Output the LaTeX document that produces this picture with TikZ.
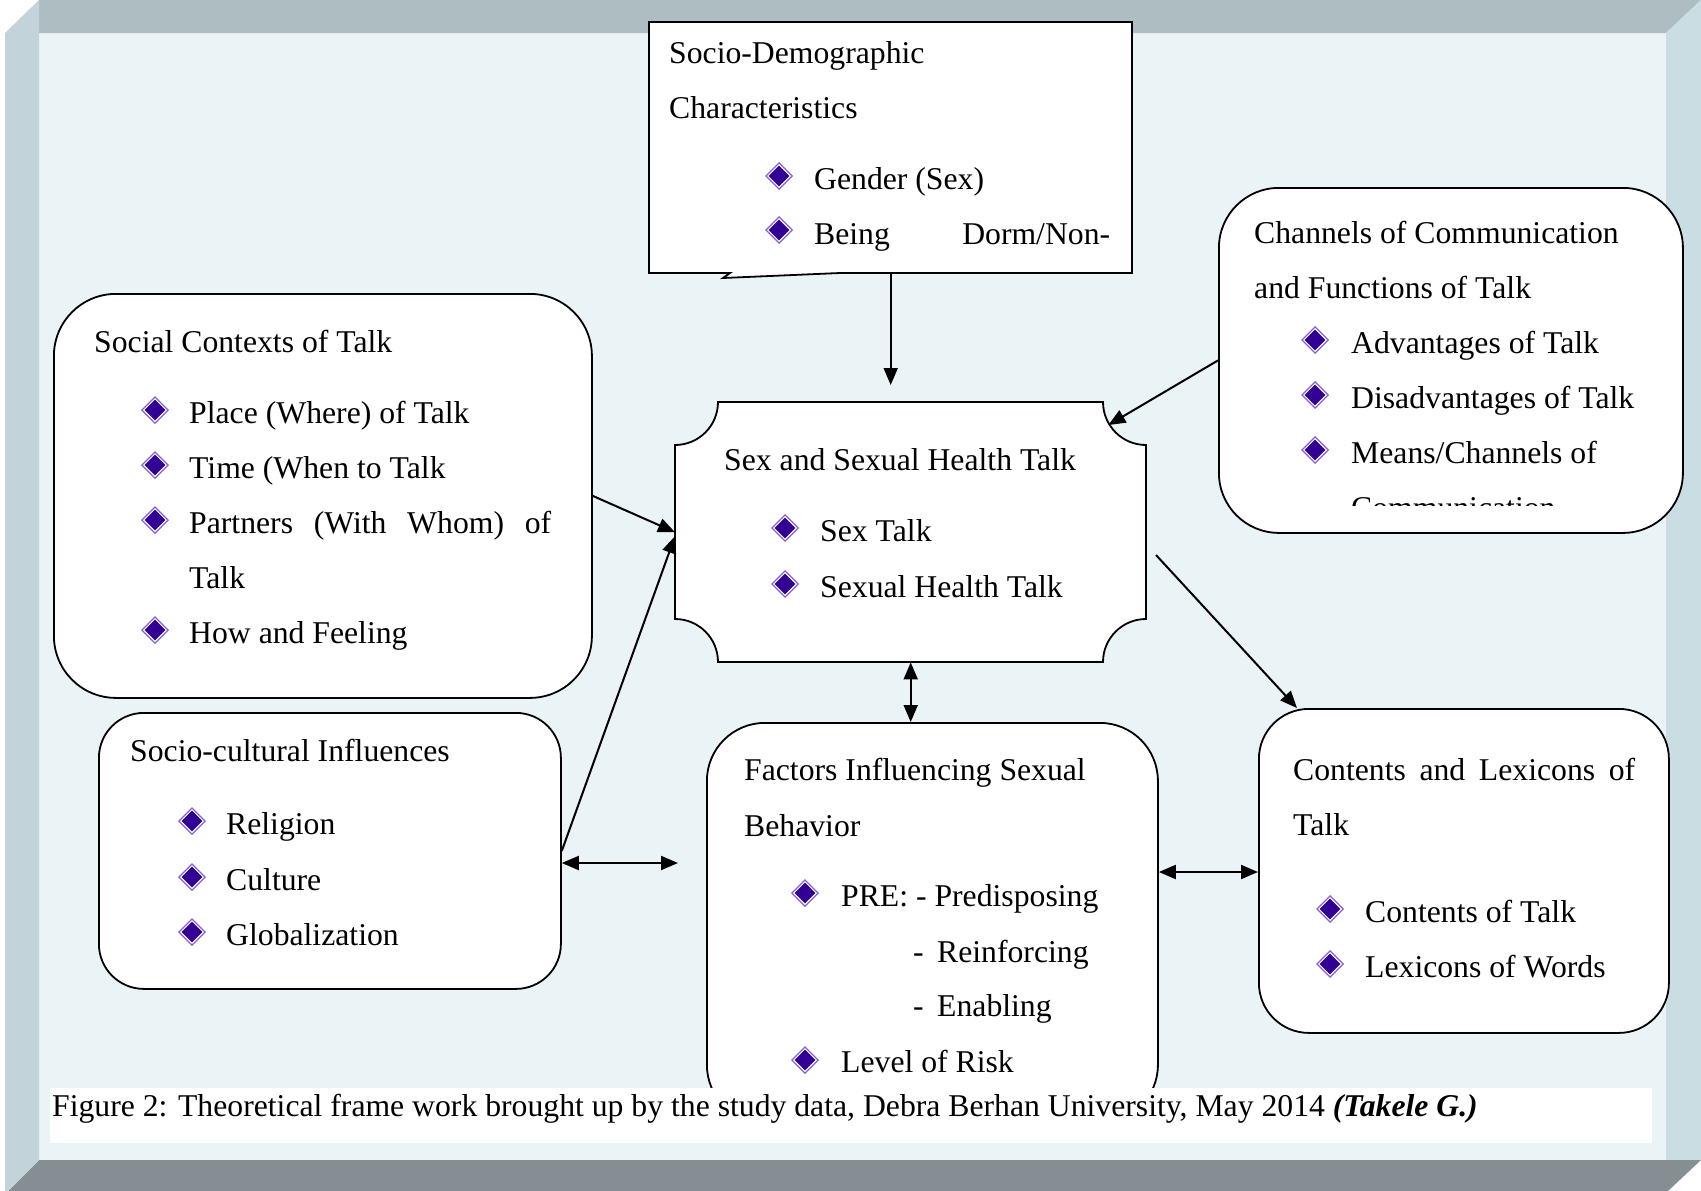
\documentclass[tikz,border=0pt]{standalone}
\usepackage{fontspec}
\setmainfont{Liberation Serif}
\usetikzlibrary{arrows.meta}
\definecolor{bevtop}{RGB}{174,189,194}
\definecolor{bevleft}{RGB}{194,212,217}
\definecolor{bevright}{RGB}{202,221,227}
\definecolor{bevbot}{RGB}{133,142,147}
\definecolor{innerbg}{RGB}{234,243,246}
\definecolor{bulA}{RGB}{130,100,215}
\definecolor{bulB}{RGB}{51,0,150}
\begin{document}
\begin{tikzpicture}[x=1pt,y=-1pt,
  boxshape/.style={anchor=north west, inner sep=0pt},
  rbox/.style={draw=black, fill=white, line width=1.8pt, anchor=north west, inner sep=0pt},
  txt/.style={anchor=base west, inner sep=0pt, font=\fontsize{31.7}{38}\selectfont},
  arr/.style={line width=2pt, -{Triangle[length=17pt,width=14pt]}},
  darr/.style={line width=2pt, {Triangle[length=17pt,width=14pt]}-{Triangle[length=17pt,width=14pt]}},
  bul/.pic={
    \fill[bulA] (0,-14)--(14,0)--(0,14)--(-14,0)--cycle;
    \fill[white] (0,-12)--(12,0)--(0,12)--(-12,0)--cycle;
    \fill[bulB] (0,-10.3)--(10.3,0)--(0,10.3)--(-10.3,0)--cycle;
  }]
\useasboundingbox (0,0) rectangle (1701,1191);
% frame
\fill[innerbg] (39,33) rectangle (1666,1160);
\fill[bevtop] (39,0)--(1701,0)--(1666,33)--(39,33)--cycle;
\fill[bevright] (1666,33)--(1701,0)--(1701,1160)--(1666,1160)--cycle;
\fill[bevbot] (39,1160)--(1701,1160)--(1668,1191)--(8,1191)--cycle;
\fill[bevleft] (39,0)--(5,33)--(5,1191)--(8,1191)--(39,1160)--cycle;

% boxes
\node[boxshape, minimum width=483pt, minimum height=251pt] (sdem) at (649,22) {};
\draw[line width=1.8pt, fill=white] (649,22)--(1132,22)--(1132,273)--(840,273)--(723,278)--(730,273)--(649,273)--cycle;

\node[rbox, rounded corners=62pt, minimum width=538pt, minimum height=404pt] (social) at (53,293) {};
\node[rbox, rounded corners=60pt, minimum width=464pt, minimum height=345pt] (channels) at (1218,187) {};
\node[rbox, rounded corners=45pt, minimum width=462pt, minimum height=276pt] (socult) at (98,712) {};
\node[rbox, rounded corners=58pt, minimum width=451pt, minimum height=400pt] (factors) at (706,722) {};
\node[rbox, rounded corners=50pt, minimum width=410pt, minimum height=324pt] (contents) at (1258,708) {};

\node[boxshape, minimum width=471pt, minimum height=260pt] (center) at (675,402) {};
\draw[line width=1.8pt, fill=white] (718,402)--(1103,402) arc(180:270:43pt)
  --(1146,619) arc(90:180:43pt)
  --(718,662) arc(0:90:43pt)
  --(675,445) arc(270:360:43pt)--cycle;

% texts: socio-demographic
\node[txt] (sd1) at (669,63) {Socio-Demographic};
\node[txt] (sd2) at (669,118) {Characteristics};
\pic at (779,176) {bul};
\node[txt] (sd3) at (814,189) {Gender (Sex)};
\pic at (779,230) {bul};
\node[txt] (sd4) at (814,244) {\makebox[296pt][s]{Being Dorm/Non-}};

% social contexts
\node[txt] (sc0) at (94,352) {Social Contexts of Talk};
\pic at (155,410) {bul};
\node[txt] (sc1) at (189,423) {Place (Where) of Talk};
\pic at (155,465) {bul};
\node[txt] (sc2) at (189,478) {Time (When to Talk};
\pic at (155,520) {bul};
\node[txt] (sc3) at (189,533) {\makebox[362pt][s]{Partners (With Whom) of}};
\node[txt] (sc4) at (189,588) {Talk};
\pic at (155,630) {bul};
\node[txt] (sc5) at (189,643) {How and Feeling};

% channels
\node[txt] (ch1) at (1254,243) {Channels of Communication};
\node[txt] (ch2) at (1254,298) {and Functions of Talk};
\pic at (1315,340) {bul};
\node[txt] (ch3) at (1351,353) {Advantages of Talk};
\pic at (1315,395) {bul};
\node[txt] (ch4) at (1351,408) {Disadvantages of Talk};
\pic at (1315,450) {bul};
\node[txt] (ch5) at (1351,463) {Means/Channels of};
\begin{scope}
\clip (1218,187) rectangle (1682,505);
\node[txt] (ch6) at (1351,518) {Communication};
\end{scope}

% center
\node[txt] (ce1) at (724,470) {Sex and Sexual Health Talk};
\pic at (785,528) {bul};
\node[txt] (ce2) at (820,541) {Sex Talk};
\pic at (785,584) {bul};
\node[txt] (ce3) at (820,597) {Sexual Health Talk};

% socio-cultural
\node[txt] (su0) at (130,761) {Socio-cultural Influences};
\pic at (192,821) {bul};
\node[txt] (su1) at (226,834) {Religion};
\pic at (192,877) {bul};
\node[txt] (su2) at (226,890) {Culture};
\pic at (192,932) {bul};
\node[txt] (su3) at (226,945) {Globalization};

% factors
\node[txt] (fa1) at (744,780) {Factors Influencing Sexual};
\node[txt] (fa2) at (744,836) {Behavior};
\pic at (805,893) {bul};
\node[txt] (fa3) at (841,906) {PRE: - Predisposing};
\node[txt] (fa4d) at (913,962) {-};
\node[txt] (fa4) at (937,962) {Reinforcing};
\node[txt] (fa5d) at (913,1016) {-};
\node[txt] (fa5) at (937,1016) {Enabling};
\pic at (805,1060) {bul};
\node[txt] (fa6) at (841,1072) {Level of Risk};

% contents
\node[txt] (co1) at (1293,780) {\makebox[342pt][s]{Contents and Lexicons of}};
\node[txt] (co2) at (1293,835) {Talk};
\pic at (1330,909) {bul};
\node[txt] (co3) at (1365,922) {Contents of Talk};
\pic at (1330,964) {bul};
\node[txt] (co4) at (1365,977) {Lexicons of Words};

% connectors
\coordinate (s6) at (678,863);
\coordinate (s7) at (1157,872);
\coordinate (s8) at (1156,555);
\draw[arr] (sdem.south) -- ([xshift=-20pt,yshift=17pt]center.north);
\draw[arr] (channels.west) -- ([xshift=-38pt,yshift=-23pt]center.north east);
\draw[arr] (social.east) -- (center.west);
\draw[arr] (socult.east) -- ([yshift=-4pt]center.west);
\draw[darr] (center.south) -- (center.south |- factors.north);
\draw[darr] (socult.east |- s6) -- (s6);
\draw[darr] (factors.east |- s7) -- (contents.west |- s7);
\draw[arr] (s8) -- ([xshift=39pt]contents.north west);

% caption
\fill[white] (50,1088) rectangle (1652,1143);
\node[anchor=base west, inner sep=0pt, font=\fontsize{31.7}{38}\selectfont] (cap) at (52,1116) {Figure 2: Theoretical frame work brought up by the study data, Debra Berhan University, May 2014 \textbf{\textit{(Takele G.)}}};
\end{tikzpicture}
\end{document}
